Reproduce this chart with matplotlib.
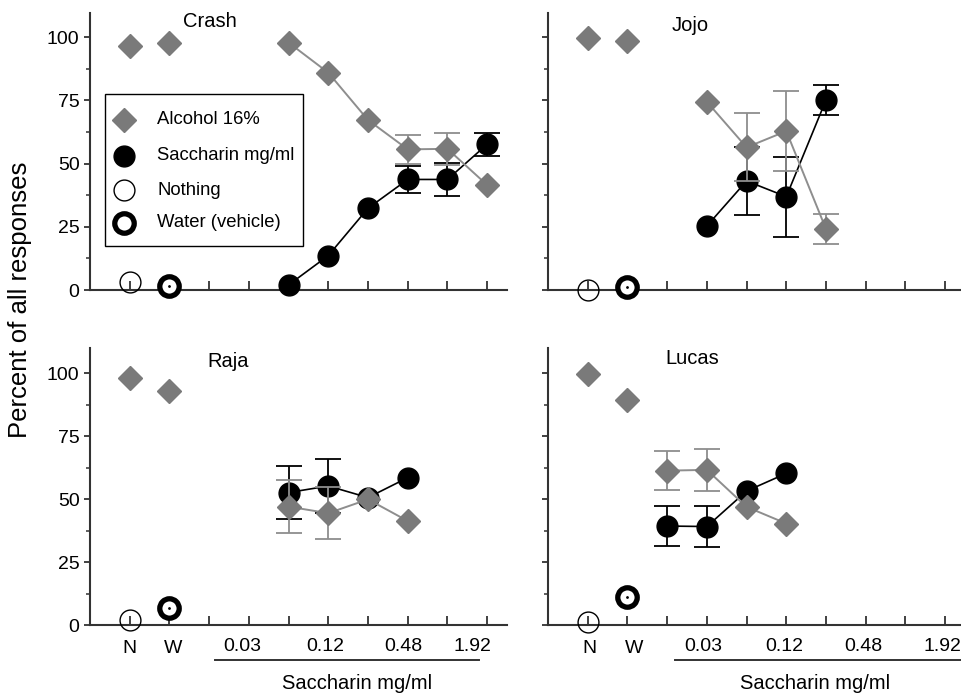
import numpy as np
import matplotlib
matplotlib.use("Agg")
import matplotlib.pyplot as plt
from matplotlib.patches import Rectangle

plt.rcParams['font.family'] = ['Liberation Sans', 'DejaVu Sans']

# dose steps on the x axis (N and W come first)
dose_labels = ['0.03', '0.12', '0.48', '1.92']
legend_labels = ['Alcohol 16%', 'Saccharin mg/ml', 'Nothing', 'Water (vehicle)']

# Crash
crash_dose = [0.06, 0.12, 0.24, 0.48, 0.96, 1.92]
crash_alc = [97.8, 85.9, 67.2, 55.6, 55.8, 41.5]
crash_alc_err = [0, 0, 0, 5.7, 6.2, 0]
crash_sac = [2.0, 13.6, 32.3, 43.7, 43.7, 57.6]
crash_sac_err = [0, 0, 0, 5.5, 6.5, 4.6]
crash_nw_alc = [96.3, 97.8]
crash_nothing = 3.3
crash_water = 1.6

# Jojo
jojo_dose = [0.03, 0.06, 0.12, 0.24]
jojo_alc = [74.4, 56.4, 62.8, 24.1]
jojo_alc_err = [0, 13.4, 15.7, 6.0]
jojo_sac = [25.3, 43.1, 36.9, 75.1]
jojo_sac_err = [0, 13.5, 15.8, 6.0]
jojo_nw_alc = [99.7, 98.4]
jojo_nothing = 0.0
jojo_water = 1.0

# Raja
raja_dose = [0.06, 0.12, 0.24, 0.48]
raja_alc = [47.0, 44.4, 49.9, 41.3]
raja_alc_err = [10.5, 10.4, 0, 0]
raja_sac = [52.6, 55.2, 50.6, 58.5]
raja_sac_err = [10.6, 10.6, 0, 0]
raja_nw_alc = [98.1, 92.8]
raja_nothing = 2.0
raja_water = 6.9

# Lucas
lucas_dose = [0.015, 0.03, 0.06, 0.12]
lucas_alc = [61.3, 61.6, 46.9, 40.3]
lucas_alc_err = [7.8, 8.2, 0, 0]
lucas_sac = [39.3, 39.1, 53.2, 60.2]
lucas_sac_err = [8.0, 8.2, 0, 0]
lucas_nw_alc = [99.6, 89.4]
lucas_nothing = 1.0
lucas_water = 11.0

GRAY = '#7a7a7a'
LGRAY = '#8e8e8e'
SPINE = '#333333'

ALC_STYLE = dict(marker='D', ms=12, mfc=GRAY, mec=GRAY)
SAC_STYLE = dict(marker='o', ms=15, mfc='black', mec='black')
NOTH_STYLE = dict(marker='o', ms=15, mfc='none', mec='black', mew=1.0)
WAT_STYLE = dict(marker='o', ms=14, mfc='white', mec='black', mew=3.8)


def pos(d):
    return 3 + np.log2(np.asarray(d, dtype=float) / 0.03)


def draw(ax, name, dose, alc, alc_err, sac, sac_err, nw_alc, nothing, water, title_x, title_y):
    x = pos(dose)
    alc_err = np.array(alc_err)
    sac_err = np.array(sac_err)
    m = sac_err > 0
    ax.errorbar(x[m], np.array(sac)[m], yerr=sac_err[m], fmt='none', ecolor='black',
                elinewidth=1.3, capsize=9.5, capthick=1.3, zorder=3, clip_on=False)
    ax.plot(x, sac, '-', color='black', lw=1.2, zorder=4, clip_on=False, **SAC_STYLE)
    m = alc_err > 0
    ax.errorbar(x[m], np.array(alc)[m], yerr=alc_err[m], fmt='none', ecolor=LGRAY,
                elinewidth=1.3, capsize=9.5, capthick=1.3, zorder=5, clip_on=False)
    ax.plot(x, alc, '-', color=LGRAY, lw=1.4, zorder=6, clip_on=False, **ALC_STYLE)
    ax.plot([0, 1], nw_alc, ls='none', zorder=6, clip_on=False, **ALC_STYLE)
    ax.plot([0], [nothing], ls='none', zorder=4, clip_on=False, **NOTH_STYLE)
    ax.plot([1], [water], ls='none', zorder=4, clip_on=False, **WAT_STYLE)
    ax.plot([1], [water], '.', ms=2, color='black', zorder=5, clip_on=False)
    ax.text(title_x, title_y, name, fontsize=14.5, ha='left', va='center')

    ax.set_xlim(-1, 9.5)
    ax.set_xticks(range(10))
    ax.set_xticklabels([])
    ax.set_yticks([0, 25, 50, 75, 100])
    ax.set_yticks([12.5, 37.5, 62.5, 87.5], minor=True)
    ax.tick_params(axis='x', direction='in', length=6.5, width=1.3, color=SPINE)
    ax.tick_params(axis='y', which='major', direction='out', length=4.5, width=1.3,
                   color=SPINE, labelsize=14, pad=3)
    ax.tick_params(axis='y', which='minor', direction='out', length=3, width=1.1, color=SPINE)
    for s in ['top', 'right']:
        ax.spines[s].set_visible(False)
    for s in ['left', 'bottom']:
        ax.spines[s].set_linewidth(1.5)
        ax.spines[s].set_color(SPINE)


def bottom_labels(ax, npos, wpos, num_pos, line_x):
    tr = ax.get_xaxis_transform()
    ax.text(npos, -0.0555, 'N', transform=tr, ha='center', va='top', fontsize=14)
    ax.text(wpos, -0.0555, 'W', transform=tr, ha='center', va='top', fontsize=14)
    for p, lab in zip(num_pos, dose_labels):
        ax.text(p, -0.0475, lab, transform=tr, ha='center', va='top', fontsize=14)
    ax.plot(line_x, [-0.126, -0.126], color=SPINE, lw=1.4, transform=tr, clip_on=False)
    ax.text(5.72, -0.231, 'Saccharin mg/ml', transform=tr,
            ha='center', va='baseline', fontsize=14.5)


fig = plt.figure(figsize=(9.62, 6.95), dpi=100)
w = 417 / 962
h = 277 / 695
ax_c = fig.add_axes([90 / 962, 1 - 290 / 695, w, h])
ax_j = fig.add_axes([548 / 962, 1 - 290 / 695, w, h])
ax_r = fig.add_axes([90 / 962, 1 - 625 / 695, w, h])
ax_l = fig.add_axes([548 / 962, 1 - 625 / 695, w, h])

draw(ax_c, 'Crash', crash_dose, crash_alc, crash_alc_err, crash_sac, crash_sac_err,
     crash_nw_alc, crash_nothing, crash_water, 1.34, 106.3)
draw(ax_j, 'Jojo', jojo_dose, jojo_alc, jojo_alc_err, jojo_sac, jojo_sac_err,
     jojo_nw_alc, jojo_nothing, jojo_water, 2.12, 104.7)
draw(ax_r, 'Raja', raja_dose, raja_alc, raja_alc_err, raja_sac, raja_sac_err,
     raja_nw_alc, raja_nothing, raja_water, 1.95, 104.5)
draw(ax_l, 'Lucas', lucas_dose, lucas_alc, lucas_alc_err, lucas_sac, lucas_sac_err,
     lucas_nw_alc, lucas_nothing, lucas_water, 1.96, 105.7)

ax_c.set_ylim(0, 109.5)
ax_j.set_ylim(0, 109.5)
ax_r.set_ylim(0, 110)
ax_l.set_ylim(0, 110)
ax_j.set_yticklabels([])
ax_l.set_yticklabels([])

bottom_labels(ax_r, 0.0, 1.1, [2.84, 4.92, 6.9, 8.63], [2.15, 8.8])
bottom_labels(ax_l, 0.05, 1.16, [2.9, 4.96, 6.93, 8.94], [2.19, 9.6])

# legend box drawn by hand in the Crash panel
ax_c.add_patch(Rectangle((0.036, 0.159), 0.475, 0.549, transform=ax_c.transAxes,
                         fill=True, facecolor='white', edgecolor='black', lw=1.0,
                         zorder=7, clip_on=False))
row_y = [0.614, 0.484, 0.361, 0.242]
styles = [ALC_STYLE, SAC_STYLE, NOTH_STYLE, WAT_STYLE]
for yy, st, lab in zip(row_y, styles, legend_labels):
    ax_c.plot([0.0815], [yy], ls='none', transform=ax_c.transAxes, zorder=8,
              clip_on=False, **st)
    ax_c.text(0.1607, yy, lab, transform=ax_c.transAxes, fontsize=13.3,
              ha='left', va='center', zorder=8)

fig.text(20 / 962, 1 - 300 / 695, 'Percent of all responses', rotation=90,
         ha='center', va='center', fontsize=18.5)

fig.savefig('out.png', dpi=100)
